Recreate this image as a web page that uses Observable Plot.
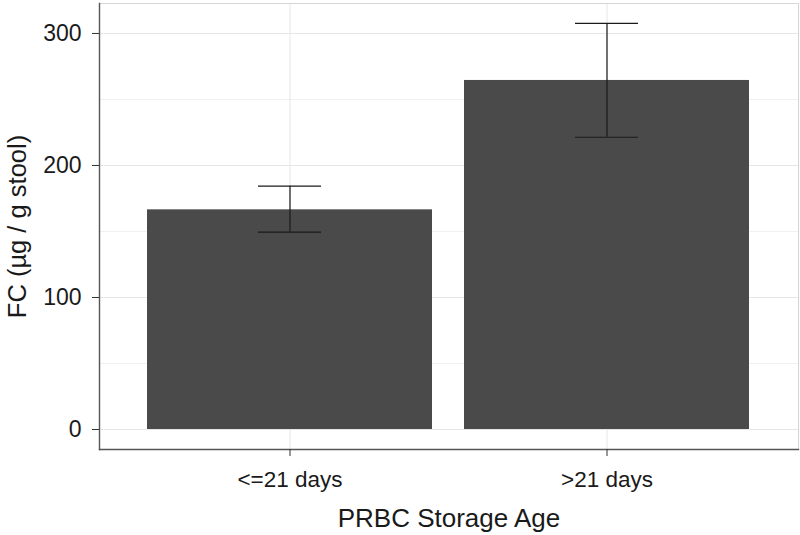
<!DOCTYPE html>
<html>
<head>
<meta charset="utf-8">
<script src="https://cdn.jsdelivr.net/npm/d3@7"></script>
<script src="https://cdn.jsdelivr.net/npm/@observablehq/plot@0.6"></script>
<style>
  html, body { margin: 0; padding: 0; background: #fff; }
  #chart svg { display: block; }
</style>
</head>
<body>
<div id="chart"></div>
<script>
// Data
const categories = ["<=21 days", ">21 days"];
const means = [166.4, 264.4];
const lowerErr = [149.5, 221.4];
const upperErr = [184.3, 307.6];
const yTicks = [0, 100, 200, 300];
const yMinorTicks = [50, 150, 250];
const yTitle = "FC (µg / g stool)";
const xTitle = "PRBC Storage Age";

const rows = categories.map((c, i) => ({cat: c, mean: means[i], lo: lowerErr[i], hi: upperErr[i]}));

const yDomain = [-15.15, 322.7];
const font = "'Liberation Sans', Arial, Helvetica, sans-serif";

const chart = Plot.plot({
  width: 800,
  height: 535,
  marginLeft: 99,
  marginRight: 2,
  marginTop: 3,
  marginBottom: 86,
  style: {fontFamily: font, background: "#fff", color: "#1a1a1a"},
  x: {domain: categories, paddingInner: 0.1, paddingOuter: 0.15, align: 0.5},
  y: {domain: yDomain},
  marks: [
    Plot.gridY(yMinorTicks, {stroke: "#f1f1f1", strokeOpacity: 1, strokeWidth: 1}),
    Plot.gridY(yTicks, {stroke: "#e6e6e6", strokeOpacity: 1, strokeWidth: 1}),
    Plot.gridX({stroke: "#e6e6e6", strokeOpacity: 1, strokeWidth: 1}),
    Plot.frame({stroke: "#d6d6d6", strokeWidth: 1}),
    Plot.barY(rows, {x: "cat", y1: 0, y2: "mean", fill: "#4a4a4a"}),
    Plot.ruleX(rows, {x: "cat", y1: "lo", y2: "hi", stroke: "#1a1a1a", strokeWidth: 1.2}),
    Plot.tickY(rows, {x: "cat", y: "lo", stroke: "#1a1a1a", strokeWidth: 1.2, insetLeft: 111, insetRight: 111}),
    Plot.tickY(rows, {x: "cat", y: "hi", stroke: "#1a1a1a", strokeWidth: 1.2, insetLeft: 111, insetRight: 111}),
    Plot.frame({anchor: "left", stroke: "#555", strokeWidth: 1.4}),
    Plot.frame({anchor: "bottom", stroke: "#555", strokeWidth: 1.4}),
    Plot.axisY({ticks: yTicks, tickSize: 7, tickPadding: 11, fontSize: 23, stroke: "#333", fill: "#1a1a1a", label: null}),
    Plot.axisX({tickSize: 7, tickPadding: 15, fontSize: 22.5, stroke: "#333", fill: "#1a1a1a", label: null}),
    Plot.text([yTitle], {frameAnchor: "left", textAnchor: "middle", dx: -74, rotate: -90, lineAnchor: "bottom", fontSize: 25.5, fill: "#1a1a1a"}),
    Plot.text([xTitle], {frameAnchor: "bottom", textAnchor: "middle", dy: 77.5, lineAnchor: "bottom", fontSize: 26, fill: "#1a1a1a"})
  ]
});

document.getElementById("chart").appendChild(chart);
</script>
</body>
</html>
